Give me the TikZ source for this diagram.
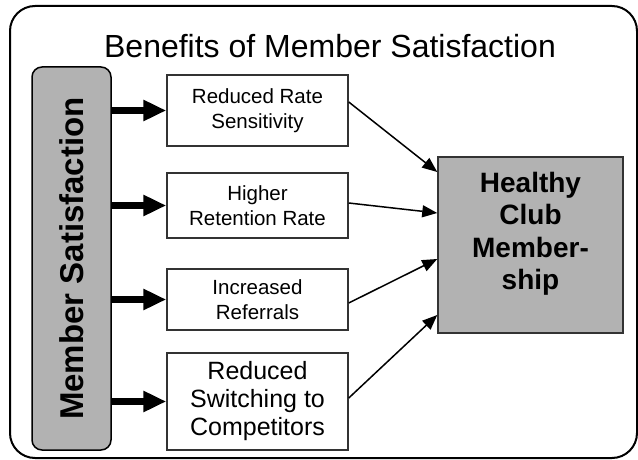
\documentclass[tikz,border=0pt]{standalone}
\usepackage{fontspec}
\setmainfont{Liberation Sans}
\usetikzlibrary{arrows.meta}

\tikzset{
	benefit/.style={draw=black!80, line width=1.5pt, fill=white, minimum width=181pt, align=center, inner sep=0pt},
	small text/.style={font=\fontsize{20.5}{25}\selectfont},
	fat arrow/.style={line width=7pt, -{Triangle[length=23pt,width=20pt]}},
	thin arrow/.style={line width=1.5pt, -{Triangle[length=15pt,width=12pt]}},
}

\begin{document}
\begin{tikzpicture}[x=1pt, y=-1pt]
		%%%%% START %%%%%
		\useasboundingbox (0,0) rectangle (638,460);
		
		\draw[line width=2pt, rounded corners=25pt] (10,6) rectangle (637,458);
		\node (title) at (330,58) [anchor=base, font=\fontsize{32}{38}\selectfont] {Benefits of Member Satisfaction};
		
		% left bar, rotated, so its south side faces right
		\node (sat) at (71.5,258.5) [rotate=90, draw, line width=1.5pt, fill=black!30, rounded corners=10pt, minimum width=383pt, minimum height=79pt, inner sep=0pt, font=\bfseries\fontsize{33}{38}\selectfont] {Member Satisfaction};
		
		\node (rate) at (257.5,110.5) [benefit, small text, minimum height=71pt] {Reduced Rate\\Sensitivity};
		\node (retention) at (257.5,205.5) [benefit, small text, minimum height=65pt] {Higher\\Retention Rate};
		\node (referrals) at (257.5,299.5) [benefit, small text, minimum height=61pt] {Increased\\Referrals};
		\node (switching) at (257.5,401.5) [benefit, font=\fontsize{25}{28}\selectfont, minimum height=97pt] {Reduced\\Switching to\\Competitors};
		
		\node (club) at (530.5,245) [draw=black!80, line width=1.5pt, fill=black!30, minimum width=185pt, minimum height=176pt, label={[align=center, yshift=11pt, font=\bfseries\fontsize{28}{32.5}\selectfont]center:{Healthy\\Club\\Member-\\ship}}] {};
		
		\draw[fat arrow] (sat.south |- rate.west) -- (rate.west);
		\draw[fat arrow] (sat.south |- retention.west) -- (retention.west);
		\draw[fat arrow] (sat.south |- referrals.west) -- (referrals.west);
		\draw[fat arrow] (sat.south |- switching.west) -- (switching.west);
		
		\draw[thin arrow] ([yshift=8.5pt]rate.east) -- ([yshift=73pt]club.west);
		\draw[thin arrow] ([yshift=2.5pt]retention.east) -- ([yshift=32pt]club.west);
		\draw[thin arrow] ([yshift=-3.5pt]referrals.east) -- ([yshift=-14pt]club.west);
		\draw[thin arrow] ([yshift=3.5pt]switching.east) -- ([yshift=-70pt]club.west);
		
		%%%%% END %%%%%
\end{tikzpicture}
\end{document}
